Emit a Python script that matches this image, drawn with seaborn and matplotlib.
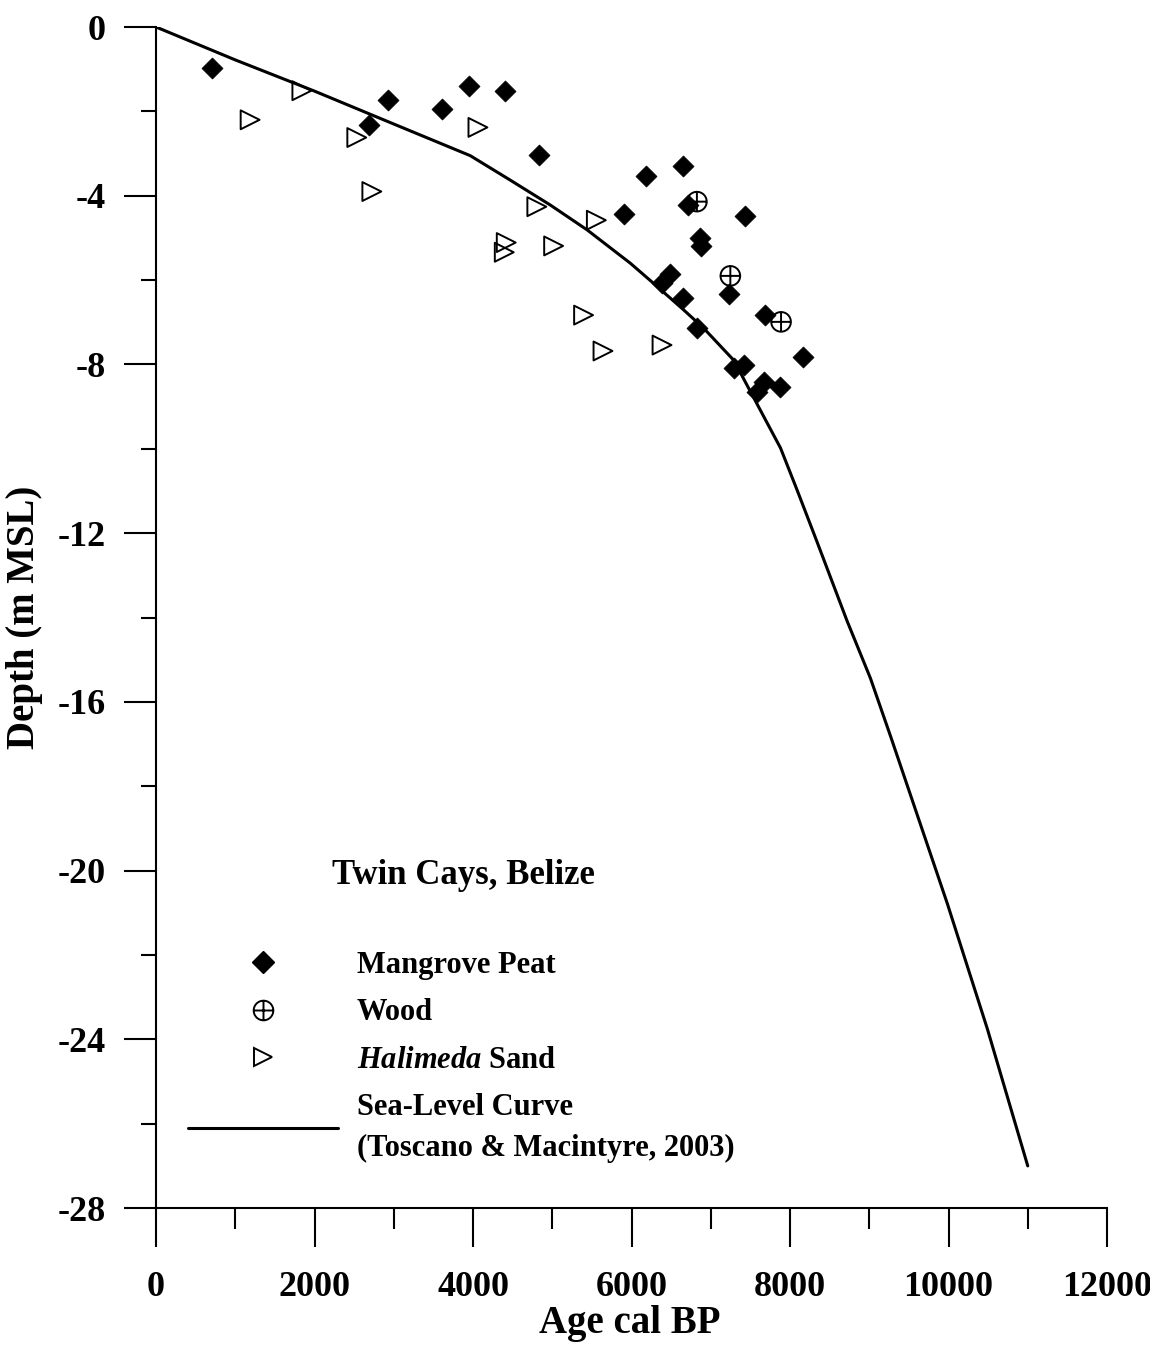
import numpy as np
import pandas as pd
import matplotlib
matplotlib.use("Agg")
import matplotlib.pyplot as plt
from matplotlib.path import Path
from matplotlib.lines import Line2D
from matplotlib.ticker import MultipleLocator
import seaborn as sns

# -------------------------------
# Data
# -------------------------------

# Sea-level curve (Toscano & Macintyre, 2003)
curve_age = [0, 1000, 2000, 3000, 3965, 4470, 4975, 5440, 5985, 6280, 6660,
             6910, 7290, 7670, 7880, 8090, 8340, 8720, 9015, 9270, 9985,
             10490, 11000]
curve_depth = [0, -0.78, -1.52, -2.3, -3.05, -3.63, -4.22, -4.81, -5.6, -6.08,
               -6.71, -7.14, -7.9, -9.24, -9.98, -10.98, -12.2, -14.08,
               -15.44, -16.82, -20.78, -23.75, -27.0]

# Mangrove peat samples
peat_age = [703, 2681, 2933, 3608, 3952, 4407, 4827, 5909, 6183, 6650, 6709,
            7428, 6860, 6880, 6481, 6385, 6650, 7230, 7681, 6825, 8160, 7415,
            7289, 7668, 7584, 7879]
peat_depth = [-0.96, -2.32, -1.73, -1.95, -1.40, -1.51, -3.04, -4.43, -3.53,
              -3.30, -4.22, -4.48, -5.0, -5.18, -5.86, -6.08, -6.42, -6.33,
              -6.83, -7.14, -7.83, -8.01, -8.09, -8.41, -8.65, -8.53]

# Wood samples
wood_age = [6825, 7247, 7887]
wood_depth = [-4.14, -5.9, -6.99]

# Halimeda sand samples
sand_age = [1187, 1840, 2533, 2723, 4062, 4805, 4419, 4394, 5556, 5017, 5395,
            5640, 6385]
sand_depth = [-2.2, -1.51, -2.62, -3.9, -2.38, -4.26, -5.11, -5.34, -4.58,
              -5.19, -6.83, -7.68, -7.54]

legend_labels = ['Mangrove Peat', 'Wood', r'$\mathit{Halimeda}$ Sand',
                 'Sea-Level Curve\n(Toscano & Macintyre, 2003)']

# -------------------------------
# Style
# -------------------------------
sns.set_theme(style="ticks")
plt.rcParams['font.family'] = ['Liberation Serif', 'DejaVu Serif']
plt.rcParams['font.weight'] = 'bold'
plt.rcParams['axes.unicode_minus'] = False
plt.rcParams['mathtext.fontset'] = 'custom'
plt.rcParams['mathtext.it'] = 'Liberation Serif:italic:bold'
plt.rcParams['mathtext.rm'] = 'Liberation Serif:bold'
plt.rcParams['axes.edgecolor'] = 'black'
plt.rcParams['xtick.color'] = 'black'
plt.rcParams['ytick.color'] = 'black'
plt.rcParams['text.color'] = 'black'
plt.rcParams['axes.labelcolor'] = 'black'

# circle with a cross for the wood samples
wood_marker = Path.make_compound_path(
    Path.unit_circle(),
    Path([[-1, 0], [1, 0], [0, -1], [0, 1]],
         [Path.MOVETO, Path.LINETO, Path.MOVETO, Path.LINETO]))

s_peat = 115
s_wood = 200
s_sand = 185

fig, ax = plt.subplots(figsize=(11.5, 13.51), dpi=100)
fig.subplots_adjust(left=0.1357, right=0.9626, bottom=0.1058, top=0.980)

curve_df = pd.DataFrame({'age': curve_age, 'depth': curve_depth})
peat_df = pd.DataFrame({'age': peat_age, 'depth': peat_depth})
wood_df = pd.DataFrame({'age': wood_age, 'depth': wood_depth})
sand_df = pd.DataFrame({'age': sand_age, 'depth': sand_depth})

sns.lineplot(data=curve_df, x='age', y='depth', sort=False, estimator=None,
             color='black', linewidth=2.2, ax=ax)
sns.scatterplot(data=peat_df, x='age', y='depth', marker='D', s=s_peat,
                color='black', edgecolor='black', linewidth=0.5, ax=ax, zorder=3)
sns.scatterplot(data=wood_df, x='age', y='depth', marker=wood_marker, s=s_wood,
                color='black', facecolor='none', edgecolor='black',
                linewidth=1.4, ax=ax, zorder=3)
sns.scatterplot(data=sand_df, x='age', y='depth', marker='>', s=s_sand,
                color='black', facecolor='none', edgecolor='black',
                linewidth=1.4, ax=ax, zorder=3)

# -------------------------------
# Axes
# -------------------------------
ax.set_xlim(0, 12000)
ax.set_ylim(-28, 0)
ax.xaxis.set_major_locator(MultipleLocator(2000))
ax.xaxis.set_minor_locator(MultipleLocator(1000))
ax.yaxis.set_major_locator(MultipleLocator(4))
ax.yaxis.set_minor_locator(MultipleLocator(2))
ax.tick_params(axis='x', which='major', direction='out', length=28, width=1.5,
               pad=17, labelsize=26)
ax.tick_params(axis='x', which='minor', direction='out', length=15, width=1.5)
ax.tick_params(axis='y', which='major', direction='out', length=23, width=1.5,
               pad=13, labelsize=26)
ax.tick_params(axis='y', which='minor', direction='out', length=11, width=1.5)
sns.despine(ax=ax)
for side in ['left', 'bottom']:
    ax.spines[side].set_linewidth(1.5)

ax.set_xlabel('Age cal BP', fontsize=28, fontweight='bold')
ax.set_ylabel('Depth (m MSL)', fontsize=28, fontweight='bold')
ax.xaxis.set_label_coords(0.498, -0.082)
ax.yaxis.set_label_coords(-0.119, 0.5)

# -------------------------------
# Legend
# -------------------------------
ax.text(0.3228, 0.282, 'Twin Cays, Belize', transform=ax.transAxes,
        ha='center', va='center', fontsize=25, fontweight='bold')

handles = [
    Line2D([], [], marker='D', linestyle='none', color='black',
           markersize=np.sqrt(s_peat)),
    Line2D([], [], marker=wood_marker, linestyle='none', markerfacecolor='none',
           markeredgecolor='black', markeredgewidth=1.4,
           markersize=np.sqrt(s_wood)),
    Line2D([], [], marker='>', linestyle='none', markerfacecolor='none',
           markeredgecolor='black', markeredgewidth=1.4,
           markersize=np.sqrt(s_sand)),
    Line2D([], [], color='black', linewidth=2.2),
]
leg = ax.legend(handles, legend_labels, loc='upper left',
                bbox_to_anchor=(0.0336, 0.2176), frameon=False, fontsize=22,
                handlelength=4.9, handletextpad=0.62, labelspacing=0.6,
                borderpad=0, borderaxespad=0, numpoints=1)
leg.get_texts()[3].set_linespacing(1.53)

fig.savefig('out.png', dpi=100)
